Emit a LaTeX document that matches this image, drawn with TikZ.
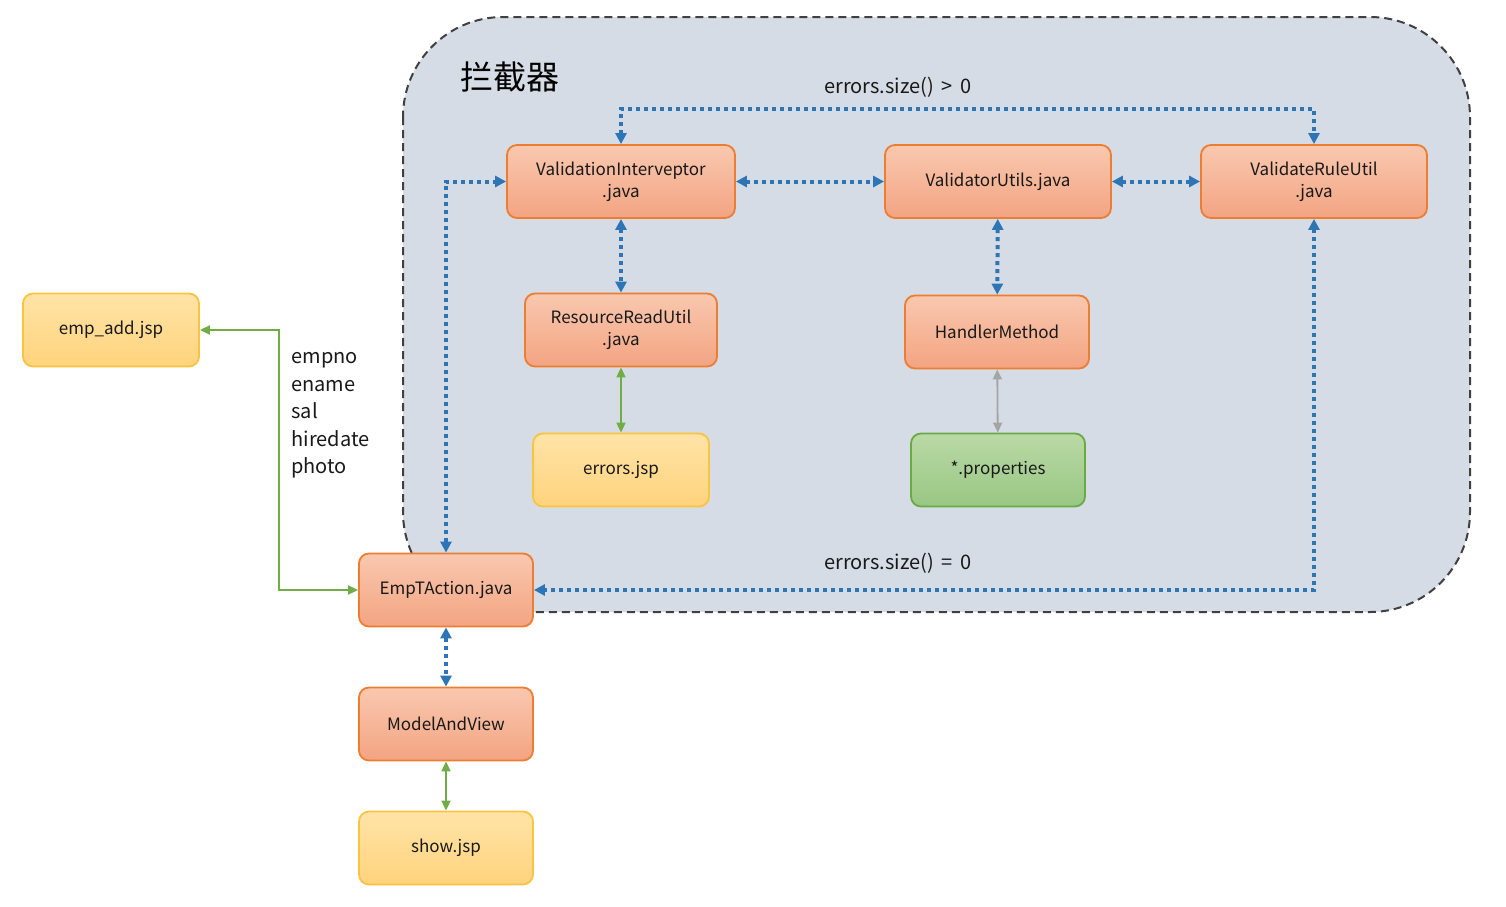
\documentclass[tikz,border=0pt]{standalone}
\usepackage{fontspec}
\setmainfont{Noto Sans CJK SC}
\usepackage{tikz}
\usetikzlibrary{arrows.meta}

\definecolor{boxorange}{RGB}{237,125,49}
\definecolor{fillorangetop}{RGB}{249,200,175}
\definecolor{fillorangebot}{RGB}{243,164,130}
\definecolor{boxyellow}{RGB}{249,196,64}
\definecolor{fillyellowtop}{RGB}{255,228,168}
\definecolor{fillyellowbot}{RGB}{255,211,124}
\definecolor{boxgreen}{RGB}{106,170,69}
\definecolor{fillgreentop}{RGB}{186,217,166}
\definecolor{fillgreenbot}{RGB}{152,199,131}
\definecolor{panelfill}{RGB}{214,220,229}
\definecolor{linkblue}{RGB}{46,117,182}
\definecolor{linkgreen}{RGB}{112,173,71}
\definecolor{linkgray}{RGB}{165,165,165}

\begin{document}
\begin{tikzpicture}[x=0.5pt,y=0.5pt,yscale=-1,
  box/.style={rounded corners=5pt,line width=0.9pt,minimum height=36.5pt,align=center,
    text=black!90,font=\fontsize{8.5}{11}\selectfont,inner sep=2pt},
  orangebox/.style={box,draw=boxorange,top color=fillorangetop,bottom color=fillorangebot},
  yellowbox/.style={box,draw=boxyellow,top color=fillyellowtop,bottom color=fillyellowbot},
  greenbox/.style={box,draw=boxgreen,top color=fillgreentop,bottom color=fillgreenbot},
  bluelink/.style={draw=linkblue,line width=2pt,dash pattern=on 2pt off 2pt,
    {Triangle[length=5.5pt,width=5.5pt]}-{Triangle[length=5.5pt,width=5.5pt]}},
  greenlink/.style={draw=linkgreen,line width=0.9pt,
    {Triangle[length=5pt,width=4.5pt]}-{Triangle[length=5pt,width=4.5pt]}},
  graylink/.style={draw=linkgray,line width=0.9pt,
    {Triangle[length=5pt,width=4.5pt]}-{Triangle[length=5pt,width=4.5pt]}},
  looktext/.style={text=black!90,font=\fontsize{10}{12}\selectfont,inner sep=0pt}
]
\useasboundingbox (0,0) rectangle (1506,906);

%Shape: interceptor panel
\draw [draw=black!75,fill=panelfill,line width=1pt,dash pattern=on 4pt off 2.5pt,rounded corners=50pt] (403,17) rectangle (1470,612);
% Text Node
\node [inner sep=0pt,font=\fontsize{16.5}{18}\selectfont] (title) at (510,77) {拦截器};

% Boxes in the panel
\node [orangebox,minimum width=114pt] (valint) at (621,181.5) {ValidationInterveptor\\.java};
\node [orangebox,minimum width=113pt] (valutil) at (998,181.5) {ValidatorUtils.java};
\node [orangebox,minimum width=113pt] (rule) at (1314,181.5) {ValidateRuleUtil\\.java};
\node [orangebox,minimum width=96pt] (resread) at (621,330) {ResourceReadUtil\\.java};
\node [orangebox,minimum width=92pt] (handler) at (997,332) {HandlerMethod};
\node [yellowbox,minimum width=88pt] (errjsp) at (621,470) {errors.jsp};
\node [greenbox,minimum width=87pt] (props) at (998,470) {*.properties};

% Boxes outside
\node [yellowbox,minimum width=88pt] (empadd) at (111,330) {emp\_add.jsp};
\node [orangebox,minimum width=87pt] (action) at (446,590) {EmpTAction.java};
\node [orangebox,minimum width=87pt] (mav) at (446,724) {ModelAndView};
\node [yellowbox,minimum width=87pt] (show) at (446,848) {show.jsp};

% Text Node
\node [looktext] (gtzero) at (898,87) {errors.size() \,>\, 0};
% Text Node
\node [looktext] (eqzero) at (898,563) {errors.size() \,=\, 0};
% Text Node
\node [anchor=north west,align=left,text=black!90,inner sep=0pt,font=\fontsize{10}{13.75}\selectfont] (fields) at (291,352) {empno\\ename\\sal\\hiredate\\photo};

\coordinate (topbar) at (0,109);
\coordinate (greenbend) at (279,460);

%Dotted links
\draw [bluelink] (valint.north) -- (valint.north |- topbar) -- (rule.north |- topbar) -- (rule.north);
\draw [bluelink] (valint) -- (valutil);
\draw [bluelink] (valutil) -- (rule);
\draw [bluelink] (valint) -- (resread);
\draw [bluelink] (valutil) -- (handler);
\draw [bluelink] (action.north) |- (valint.west);
\draw [bluelink] (rule.south) |- (action.east);
\draw [bluelink] (action) -- (mav);

%Solid links
\draw [greenlink] (resread) -- (errjsp);
\draw [greenlink] (mav) -- (show);
\draw [greenlink] (empadd.east) -| (greenbend) |- (action.west);
\draw [graylink] (handler) -- (props);

\end{tikzpicture}
\end{document}
